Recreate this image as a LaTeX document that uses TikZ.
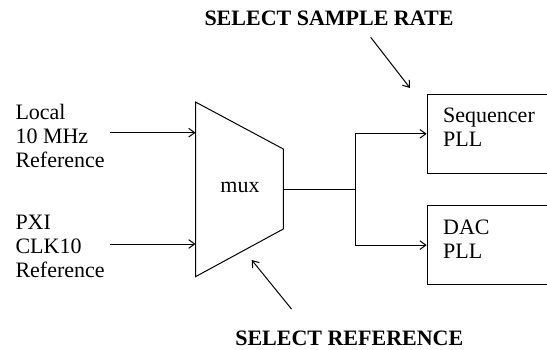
\documentclass[tikz,border=0pt]{standalone}
\usepackage{fontspec}
\setmainfont{Liberation Serif}
\usetikzlibrary{arrows.meta}
\usetikzlibrary{positioning}
\tikzset{>={Straight Barb[length=4.5pt,width=6.5pt]}}
\tikzset{
  txt/.style={inner sep=0pt, align=left, font=\fontsize{16.5}{18}\selectfont},
  title/.style={inner sep=0pt, font=\fontsize{16.5}{18}\selectfont\bfseries},
  pllbox/.style={draw, minimum width=112.5pt, minimum height=59pt, inner sep=0pt}
}

\begin{document}
\begin{tikzpicture}[x=0.75pt,y=0.75pt,yscale=-1,xscale=1,line width=0.75pt]
\clip (0,0) rectangle (547,350);

%Shape: Trapezoid [mux]
\draw (195.5,102) -- (283.3,149) -- (283.3,229) -- (195.5,276.7) -- cycle ;
\node [txt, anchor=base] (mux) at (240,192.3) {mux};
\coordinate (muxin1) at (195.5,132.7);
\coordinate (muxin2) at (195.5,244);
\coordinate (muxout) at (283.3,189.3);
\coordinate (junc) at (355,189.3);

%Inputs (base = last line)
\node [txt, anchor=base west] (local) at (15,167.3) {Local\\10 MHz\\Reference};
\node [txt, anchor=base west] (pxi) at (15,277.5) {PXI\\CLK10\\Reference};
\draw [->] ([xshift=4pt]local.east |- muxin1) -- (muxin1) ;
\draw [->] ([xshift=4pt]pxi.east |- muxin2) -- (muxin2) ;

%Shape: Rectangles [PLL]
\node [pllbox, anchor=north west] (seq) at (426.7,94) {};
\node [pllbox, anchor=north west] (dac) at (426.7,205.3) {};
\node [txt, anchor=base west] (seqlbl) at (442.7,146.7) {Sequencer\\PLL};
\node [txt, anchor=base west] (daclbl) at (442.7,258) {DAC\\PLL};

%Straight Lines
\draw (muxout) -- (junc) ;
\draw [->] (junc) |- (seq.west) ;
\draw [->] (junc) |- (dac.west) ;

%Select signals
\node [title, anchor=base] (rate) at (329,25) {SELECT SAMPLE RATE};
\node [title, anchor=base] (ref) at (349.3,345) {SELECT REFERENCE};
\coordinate (ratefrom) at (370.7,37.3);
\coordinate (rateto) at (410,88);
\coordinate (reffrom) at (291.5,309);
\coordinate (refto) at (251.7,260);
\draw [->] (ratefrom) -- (rateto) ;
\draw [->] (reffrom) -- (refto) ;
\end{tikzpicture}
\end{document}
